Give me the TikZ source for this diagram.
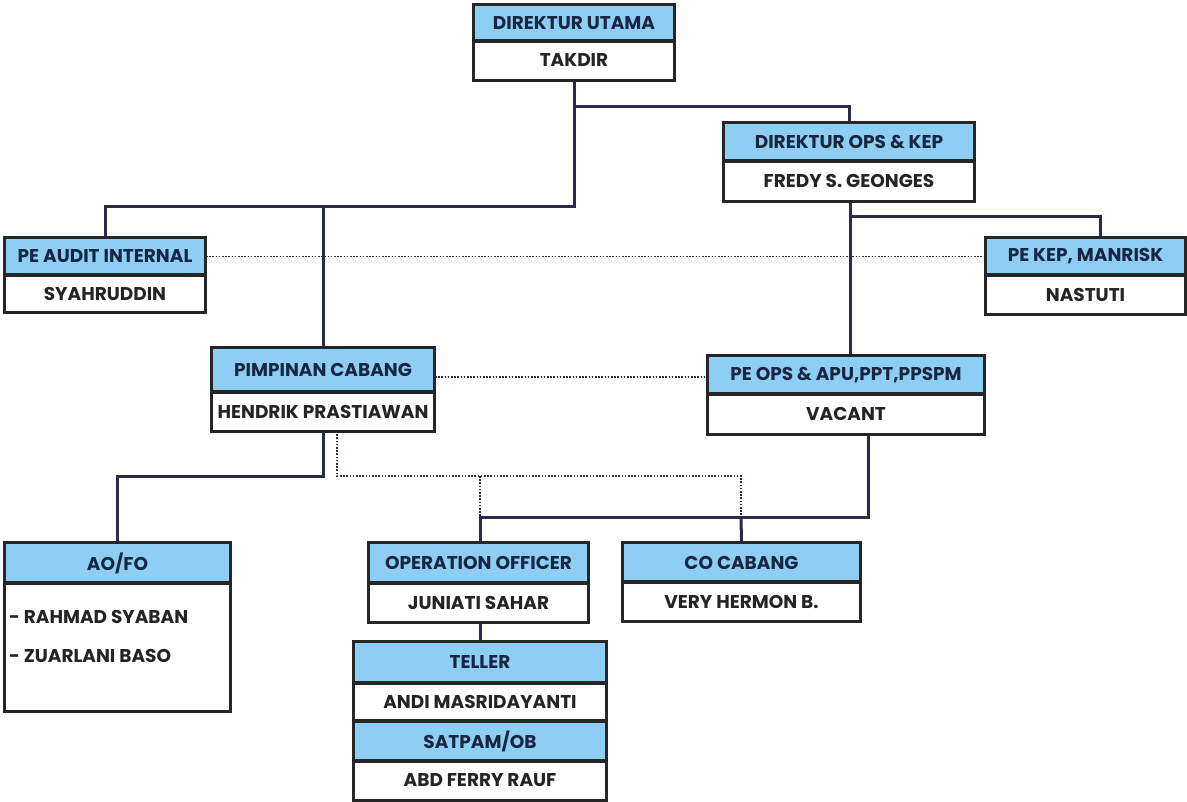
\documentclass[tikz,border=0pt]{standalone}
\usepackage{fontspec}
\setmainfont{Poppins}
\definecolor{hdrfill}{RGB}{142,206,244}
\definecolor{hdrtext}{RGB}{24,38,66}
\definecolor{bdytext}{RGB}{36,36,36}
\definecolor{linec}{RGB}{40,44,74}
\begin{document}
\begin{tikzpicture}[x=1pt,y=-1pt,
  txt/.style={font=\fontsize{18.5}{22}\selectfont\bfseries},
  box/.style={draw=black!85,line width=1.8pt,inner sep=0pt,txt},
  hdr/.style={box,fill=hdrfill,text=hdrtext},
  bdy/.style={box,fill=white,text=bdytext},
  conn/.style={draw=linec,line width=3pt},
  dotl/.style={draw=linec,line width=1.8pt,dash pattern=on 1.6pt off 1.6pt}]
\useasboundingbox[fill=white] (0,0) rectangle (1187,802);
% DIREKTUR UTAMA
\node[hdr,minimum width=200,minimum height=36] (du) at (574,23) {DIREKTUR UTAMA};
\node[bdy,minimum width=200,minimum height=39] (dub) at (574,60.5) {TAKDIR};
% DIREKTUR OPS
\node[hdr,minimum width=250,minimum height=38] (do) at (849,142) {DIREKTUR OPS \& KEP};
\node[bdy,minimum width=250,minimum height=40] (dob) at (849,181) {FREDY S. GEONGES};
% PE AUDIT
\node[hdr,minimum width=200,minimum height=37] (pa) at (105,256.5) {PE AUDIT INTERNAL};
\node[bdy,minimum width=200,minimum height=37] (pab) at (105,293.5) {SYAHRUDDIN};
% PE KEP
\node[hdr,minimum width=199,minimum height=37] (pk) at (1085.5,256.5) {PE KEP, MANRISK};
\node[bdy,minimum width=199,minimum height=39] (pkb) at (1085.5,294.5) {NASTUTI};
% PIMPINAN CABANG
\node[hdr,minimum width=222,minimum height=44] (pc) at (323,370) {PIMPINAN CABANG};
\node[bdy,minimum width=222,minimum height=39] (pcb) at (323,411.5) {HENDRIK PRASTIAWAN};
% PE OPS
\node[hdr,minimum width=276,minimum height=38] (po) at (846,375) {PE OPS \& APU,PPT,PPSPM};
\node[bdy,minimum width=276,minimum height=40] (pob) at (846,414) {VACANT};
% AO/FO
\node[hdr,minimum width=225,minimum height=40] (ao) at (117.5,563) {AO/FO};
\node[bdy,minimum width=225,minimum height=128] (aob) at (117.5,647) {};
\node[anchor=west,txt,text=bdytext,inner sep=0pt] (ao1) at (9,617) {- RAHMAD SYABAN};
\node[anchor=west,txt,text=bdytext,inner sep=0pt] (ao2) at (9,656) {- ZUARLANI BASO};
% OPERATION OFFICER
\node[hdr,minimum width=219,minimum height=40] (oo) at (478.5,563) {OPERATION OFFICER};
\node[bdy,minimum width=219,minimum height=39] (oob) at (478.5,602.5) {JUNIATI SAHAR};
% CO CABANG
\node[hdr,minimum width=237,minimum height=39] (co) at (741.5,562.5) {CO CABANG};
\node[bdy,minimum width=237,minimum height=39] (cob) at (741.5,601.5) {VERY HERMON B.};
% TELLER / SATPAM
\node[hdr,minimum width=252,minimum height=41] (te) at (480,662.5) {TELLER};
\node[bdy,minimum width=252,minimum height=38] (teb) at (480,702) {ANDI MASRIDAYANTI};
\node[hdr,minimum width=252,minimum height=40] (sa) at (480,741) {SATPAM/OB};
\node[bdy,minimum width=252,minimum height=39] (sab) at (480,780.5) {ABD FERRY RAUF};
% junction coordinates
\coordinate (j1) at (574,207);
\coordinate (j2) at (574,107);
\coordinate (j3) at (850,217);
\coordinate (pkin) at (1100,238);
\coordinate (j4) at (323,476);
\coordinate (d1) at (337,431);
\coordinate (d2) at (337,476);
\coordinate (d3) at (480,476);
\coordinate (d4) at (480,517);
\coordinate (s1) at (868,434);
\coordinate (s2) at (868,517);
\coordinate (s3) at (480,517);
\coordinate (s4) at (741,517);
% solid connectors
\draw[conn] (dub.south) -- (j1) -| (pa.north);
\draw[conn] (j1 -| pc.north) -- (pc.north);
\draw[conn] (j2) -| (do.north);
\draw[conn] (dob.south -| 850,0) -- (po.north -| 850,0);
\draw[conn] (j3) -| (pkin);
\draw[conn] (pcb.south) -- (j4) -| (ao.north);
\draw[conn] (s1) -- (s2) -- (s3) -- (s3 |- oo.north);
\draw[conn] (s4) -- (co.north);
\draw[conn] (oob.south -| 480,0) -- (te.north);
% dotted connectors
\draw[dotl] (pa.east) -- (pk.west);
\draw[dotl] (pc.east |- 0,377) -- (po.west |- 0,377);
\draw[dotl] (d1) -- (d2) -| (741,517);
\draw[dotl] (d3) -- (d4);
% redraw box outlines on top
\foreach \n in {du,dub,do,dob,pa,pab,pk,pkb,pc,pcb,po,pob,ao,aob,oo,oob,co,cob,te,teb,sa,sab}{\draw[draw=black!85,line width=1.8pt] (\n.north west) rectangle (\n.south east);}
\end{tikzpicture}
\end{document}
